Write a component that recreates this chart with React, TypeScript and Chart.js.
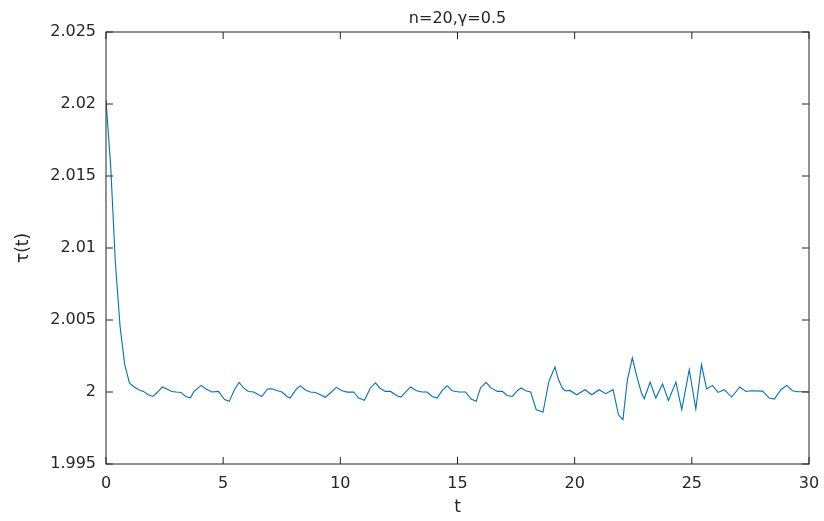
import React, { useEffect, useRef } from "react";
import { Chart, registerables } from "chart.js";

Chart.register(...registerables);

// ---- data ----
const tValues: number[] = [
  0, 0.2, 0.4, 0.6, 0.8, 1.0, 1.2, 1.4, 1.6, 1.8,
  2.0, 2.2, 2.4, 2.6, 2.8, 3.0, 3.2, 3.4, 3.6, 3.76,
  4.06, 4.27, 4.52, 4.8, 5.06, 5.26, 5.48, 5.68, 5.87, 6.08,
  6.3, 6.51, 6.65, 6.89, 7.08, 7.32, 7.51, 7.72, 7.86, 8.08,
  8.29, 8.5, 8.72, 8.93, 9.15, 9.36, 9.57, 9.83, 10.07, 10.29,
  10.57, 10.78, 11.03, 11.28, 11.5, 11.68, 11.92, 12.14, 12.42, 12.59,
  12.81, 13.0, 13.25, 13.49, 13.7, 13.92, 14.13, 14.34, 14.56, 14.77,
  15.06, 15.34, 15.58, 15.8, 15.98, 16.22, 16.41, 16.7, 16.91, 17.12,
  17.34, 17.55, 17.72, 17.91, 18.12, 18.36, 18.65, 18.9, 19.16, 19.3,
  19.47, 19.57, 19.8, 20.09, 20.44, 20.73, 21.04, 21.32, 21.64, 21.87,
  22.06, 22.25, 22.46, 22.66, 22.85, 22.97, 23.22, 23.46, 23.75, 24.0,
  24.32, 24.57, 24.89, 25.17, 25.41, 25.63, 25.88, 26.12, 26.38, 26.7,
  27.05, 27.31, 27.52, 28.02, 28.3, 28.52, 28.8, 29.05, 29.3, 29.52,
  29.8, 30.0,
];

const tauValues: number[] = [
  2.0203, 2.01567, 2.00898, 2.00456, 2.0019, 2.00063, 2.00035, 2.00016, 2.00004, 1.99981,
  1.99969, 2.0, 2.00035, 2.00021, 2.00004, 2.0, 1.99997, 1.99969, 1.9996, 2.00004,
  2.00046, 2.00021, 2.0, 2.00004, 1.99947, 1.99935, 2.00016, 2.00067, 2.00028, 2.00004,
  2.0, 1.99981, 1.99969, 2.00021, 2.00023, 2.00009, 2.0, 1.99969, 1.99958, 2.00011,
  2.00044, 2.00016, 2.0, 1.99997, 1.99981, 1.99963, 1.99993, 2.00032, 2.00009, 1.99999,
  2.0, 1.99958, 1.99942, 2.00028, 2.00063, 2.00028, 2.00004, 2.00004, 1.99974, 1.99965,
  2.00004, 2.00035, 2.00009, 2.0, 2.0, 1.99969, 1.99958, 2.00009, 2.00044, 2.00009,
  2.0, 2.0, 1.99951, 1.99935, 2.00028, 2.00067, 2.0003, 2.00004, 2.00004, 1.99976,
  1.99969, 2.00009, 2.00028, 2.00009, 2.0, 1.99877, 1.99861, 2.00074, 2.00174, 2.0009,
  2.00028, 2.00009, 2.00011, 1.99981, 2.00016, 1.99981, 2.00016, 1.99988, 2.00016, 1.99842,
  1.99808, 2.00085, 2.00236, 2.00103, 1.99993, 1.99953, 2.00069, 1.99958, 2.00056, 1.99942,
  2.00069, 1.99877, 2.00155, 1.99882, 2.0019, 2.00021, 2.00046, 1.99997, 2.00016, 1.99965,
  2.00035, 2.00004, 2.00009, 2.00006, 1.99958, 1.99951, 2.00016, 2.00046, 2.00009, 2.00002,
  2.00002, 2.0,
];

const xTicks: number[] = [0, 5, 10, 15, 20, 25, 30];
const xTickLabels: string[] = ["0", "5", "10", "15", "20", "25", "30"];
const yTicks: number[] = [1.995, 2, 2.005, 2.01, 2.015, 2.02, 2.025];
const yTickLabels: string[] = ["1.995", "2", "2.005", "2.01", "2.015", "2.02", "2.025"];

const titleText = "n=20,\u03B3=0.5";
const xAxisLabel = "t";
const yAxisLabel = "\u03C4(t)";

const TEXT_COLOR = "#262626";
const LINE_COLOR = "#0072BD";
const FONT = "'DejaVu Sans', 'Liberation Sans', sans-serif";

const boxTicksPlugin = {
  id: "boxTicks",
  afterDatasetsDraw(chart: any) {
    const { ctx, chartArea, scales } = chart;
    const { left, right, top, bottom } = chartArea;
    const x = scales.x;
    const y = scales.y;
    const L = 7;
    ctx.save();
    ctx.strokeStyle = TEXT_COLOR;
    ctx.lineWidth = 1;
    ctx.beginPath();
    x.ticks.forEach((t: any) => {
      const px = x.getPixelForValue(t.value);
      ctx.moveTo(px, bottom);
      ctx.lineTo(px, bottom - L);
      ctx.moveTo(px, top);
      ctx.lineTo(px, top + L);
    });
    y.ticks.forEach((t: any) => {
      const py = y.getPixelForValue(t.value);
      ctx.moveTo(left, py);
      ctx.lineTo(left + L, py);
      ctx.moveTo(right, py);
      ctx.lineTo(right - L, py);
    });
    ctx.stroke();
    ctx.strokeRect(left, top, right - left, bottom - top);
    ctx.restore();
  },
};

export default function App() {
  const canvasRef = useRef<HTMLCanvasElement | null>(null);

  useEffect(() => {
    if (!canvasRef.current) return;
    const points = tValues.map((t, i) => ({ x: t, y: tauValues[i] }));
    const chart = new Chart(canvasRef.current, {
      type: "line",
      data: {
        datasets: [
          {
            data: points,
            borderColor: LINE_COLOR,
            borderWidth: 1.1,
            pointRadius: 0,
            tension: 0,
            fill: false,
          },
        ],
      },
      options: {
        animation: false,
        responsive: true,
        maintainAspectRatio: false,
        layout: { padding: { left: 0, right: 15, top: 0, bottom: 0 } },
        plugins: {
          legend: { display: false },
          tooltip: { enabled: false },
          title: {
            display: true,
            text: titleText,
            fullSize: false,
            color: TEXT_COLOR,
            font: { family: FONT, size: 16, weight: "normal", lineHeight: 1.2 },
            padding: { top: 9, bottom: 3.8 },
          },
        },
        scales: {
          x: {
            type: "linear",
            min: 0,
            max: 30,
            afterBuildTicks: (scale: any) => {
              scale.ticks = xTicks.map((v) => ({ value: v }));
            },
            afterFit: (scale: any) => {
              scale.height = 57;
              scale.paddingLeft = 0;
              scale.paddingRight = 0;
            },
            grid: { display: false, drawTicks: false },
            border: { display: false },
            ticks: {
              color: TEXT_COLOR,
              font: { family: FONT, size: 16 },
              padding: 10,
              maxRotation: 0,
              autoSkip: false,
              callback: (v: any) => {
                const i = xTicks.indexOf(Number(v));
                return i >= 0 ? xTickLabels[i] : "";
              },
            },
            title: {
              display: true,
              text: xAxisLabel,
              color: TEXT_COLOR,
              font: { family: FONT, size: 17, lineHeight: 1.2 },
              padding: { top: 0, bottom: 3 },
            },
          },
          y: {
            type: "linear",
            min: 1.995,
            max: 2.025,
            afterBuildTicks: (scale: any) => {
              scale.ticks = yTicks.map((v) => ({ value: v }));
            },
            afterFit: (scale: any) => {
              scale.width = 106;
              scale.paddingTop = 0;
              scale.paddingBottom = 0;
            },
            grid: { display: false, drawTicks: false },
            border: { display: false },
            ticks: {
              color: TEXT_COLOR,
              font: { family: FONT, size: 16 },
              padding: 10,
              autoSkip: false,
              callback: (v: any) => {
                const i = yTicks.findIndex((y) => Math.abs(y - Number(v)) < 1e-9);
                return i >= 0 ? yTickLabels[i] : "";
              },
            },
            title: {
              display: true,
              text: yAxisLabel,
              color: TEXT_COLOR,
              font: { family: FONT, size: 17, lineHeight: 1.2 },
              padding: { top: 13, bottom: 0 },
            },
          },
        },
      },
      plugins: [boxTicksPlugin],
    });
    return () => chart.destroy();
  }, []);

  return (
    <div
      style={{
        position: "fixed",
        left: 0,
        top: 0,
        width: 824,
        height: 521,
        background: "#ffffff",
      }}
    >
      <canvas ref={canvasRef} />
    </div>
  );
}
